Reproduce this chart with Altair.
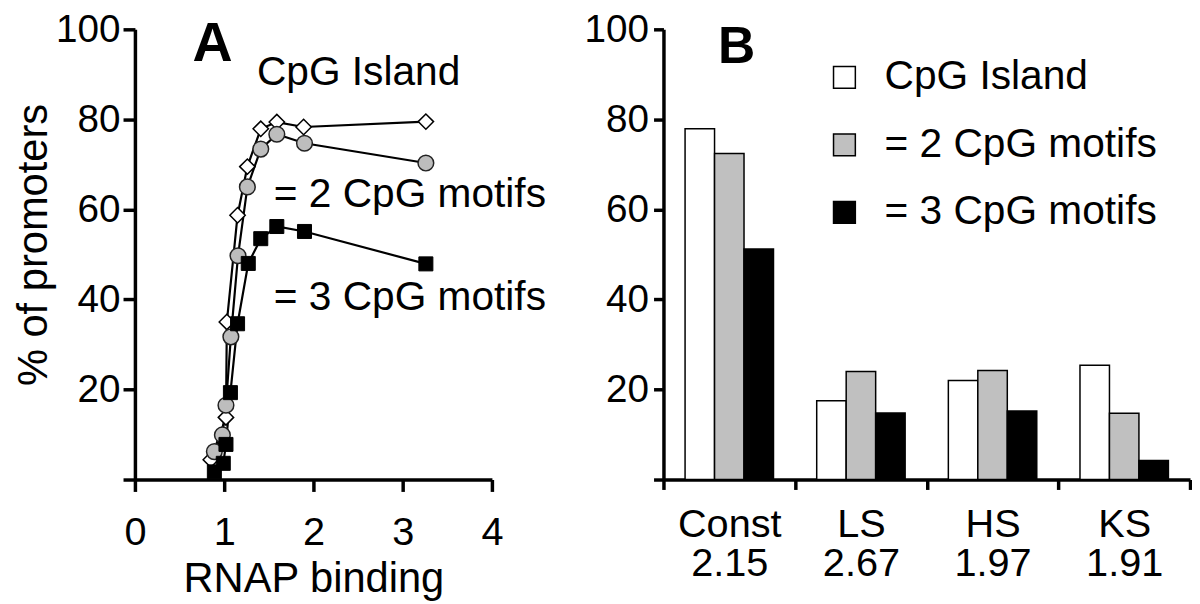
import altair as alt
import pandas as pd

FONT = "Liberation Sans"

# ---------------- Panel A: % of promoters vs RNAP binding ----------------
series_names = ["CpG Island", "= 2 CpG motifs", "= 3 CpG motifs"]

island_x = [0.85, 1.02, 1.03, 1.15, 1.26, 1.41, 1.59, 1.89, 3.26]
island_y = [4.4, 13.8, 35.0, 58.7, 69.5, 77.9, 79.4, 78.3, 79.5]

two_x = [0.89, 0.98, 1.02, 1.075, 1.155, 1.26, 1.41, 1.59, 1.90, 3.26]
two_y = [6.2, 9.9, 16.5, 31.7, 49.7, 65.0, 73.4, 76.7, 74.7, 70.3]

three_x = [0.89, 0.99, 1.02, 1.07, 1.15, 1.27, 1.41, 1.59, 1.90, 3.26]
three_y = [1.7, 3.6, 7.8, 19.3, 34.6, 48.0, 53.5, 56.2, 55.1, 47.9]

x_ticks = [0, 1, 2, 3, 4]
y_ticks = [0, 20, 40, 60, 80, 100]

# ---------------- Panel B: bars per promoter class ----------------
categories = ["Const", "LS", "HS", "KS"]
cat_numbers = ["2.15", "2.67", "1.97", "1.91"]
island_pct = [77.9, 17.5, 22.0, 25.4]
two_pct = [72.4, 24.0, 24.2, 14.7]
three_pct = [51.2, 14.8, 15.2, 4.2]

# ---------------- tables ----------------
dfA = pd.DataFrame({
    "x": island_x + two_x + three_x,
    "y": island_y + two_y + three_y,
    "series": [series_names[0]] * len(island_x)
    + [series_names[1]] * len(two_x)
    + [series_names[2]] * len(three_x),
})

cat_labels = [f"{c}|{n}" for c, n in zip(categories, cat_numbers)]
dfB = pd.DataFrame({
    "label": cat_labels * 3,
    "group": [series_names[0]] * 4 + [series_names[1]] * 4 + [series_names[2]] * 4,
    "value": island_pct + two_pct + three_pct,
})

PLOT_H = 454

# ---------------- Panel A chart ----------------
xA = alt.X(
    "x:Q",
    scale=alt.Scale(domain=[0, 4], nice=False, zero=False),
    axis=alt.Axis(
        values=x_ticks, format="d", title="RNAP binding", tickSize=12,
        labelPadding=22, labelFontSize=40, titleFontSize=42, titleY=113,
        titleBaseline="alphabetic", labelFlush=False,
    ),
)
yA = alt.Y(
    "y:Q",
    scale=alt.Scale(domain=[0, 100], nice=False),
    axis=alt.Axis(
        values=y_ticks, labelExpr="datum.value == 0 ? '' : datum.label",
        tickSize=12, labelPadding=3, title="% of promoters", titleFontSize=42,
        titleX=-102, titleY=217, titleBaseline="middle", titleAlign="center",
        labelFlush=False,
    ),
)

baseA = alt.Chart(dfA)
linesA = baseA.mark_line(color="black", strokeWidth=2.2).encode(
    x=xA, y=yA, detail="series:N"
)
pts_island = baseA.transform_filter(alt.datum.series == series_names[0]).mark_point(
    shape="diamond", filled=True, fill="white", stroke="black", strokeWidth=1.5,
    size=240, opacity=1,
).encode(x=xA, y=yA)
pts_two = baseA.transform_filter(alt.datum.series == series_names[1]).mark_point(
    shape="circle", filled=True, fill="#bdbdbd", stroke="#222222", strokeWidth=1.5,
    size=250, opacity=1,
).encode(x=xA, y=yA)
pts_three = baseA.transform_filter(alt.datum.series == series_names[2]).mark_point(
    shape="square", filled=True, fill="black", stroke="black", strokeWidth=1,
    size=200, opacity=1,
).encode(x=xA, y=yA)

def note(txt, xv, yv, size=41, weight="normal"):
    return alt.Chart(pd.DataFrame({"t": [txt]})).mark_text(
        align="left", baseline="middle", font=FONT, fontSize=size,
        fontWeight=weight, color="black",
    ).encode(x=alt.datum(xv), y=alt.datum(yv), text="t:N")

textA = (
    note("A", 0.644, 96.7, size=56, weight="bold")
    + note(series_names[0], 1.367, 90.3)
    + note(series_names[1], 1.556, 63.1)
    + note(series_names[2], 1.556, 40.3)
)

chartA = alt.layer(linesA, pts_island, pts_two, pts_three, textA).properties(
    width=360, height=PLOT_H
)

# ---------------- Panel B chart ----------------
xB = alt.X(
    "label:N", sort=cat_labels,
    scale=alt.Scale(paddingInner=0, paddingOuter=0),
    axis=alt.Axis(
        title=None, tickBand="extent", labelExpr="split(datum.label, '|')",
        labelAngle=0, tickSize=10, labelPadding=15, labelLineHeight=40,
        labelFontSize=40, labelBaseline="top",
    ),
)
yB = alt.Y(
    "value:Q",
    scale=alt.Scale(domain=[0, 100], nice=False),
    axis=alt.Axis(
        values=y_ticks, labelExpr="datum.value == 0 ? '' : datum.label",
        tickSize=10, labelPadding=5, title=None, labelFlush=False,
    ),
)
bars = alt.Chart(dfB).mark_bar(stroke="black", strokeWidth=1.5).encode(
    x=xB,
    xOffset=alt.XOffset("group:N", sort=series_names,
                        scale=alt.Scale(paddingInner=0, paddingOuter=0.733)),
    y=yB,
    fill=alt.Fill(
        "group:N", sort=series_names,
        scale=alt.Scale(domain=series_names, range=["white", "#c0c0c0", "black"]),
        legend=alt.Legend(
            orient="none", legendX=695, legendY=28, title=None,
            symbolType="square", symbolSize=484, symbolStrokeColor="black",
            symbolStrokeWidth=1.5, labelFontSize=41, labelFont=FONT,
            labelColor="black", labelOffset=20, rowPadding=26, padding=0,
            labelLimit=500,
        ),
    ),
)
textB = alt.Chart(pd.DataFrame({"t": ["B"]})).mark_text(
    align="left", baseline="middle", font=FONT, fontSize=52,
    fontWeight="bold", color="black",
).encode(x=alt.value(55), y=alt.datum(96.1), text="t:N")

chartB = alt.layer(bars, textB).properties(width=531, height=PLOT_H)

chart = (
    alt.hconcat(chartA, chartB, spacing=173, bounds="flush")
    .properties(padding={"left": 4, "top": 0, "right": 0, "bottom": 0})
    .configure_axis(
        domainColor="black", tickColor="black", labelColor="black",
        titleColor="black", domainWidth=3.5, tickWidth=3.5, labelFont=FONT,
        titleFont=FONT, labelFontSize=39, titleFontWeight="normal", grid=False,
    )
    .configure_view(stroke=None)
)

chart.save("out.html", embed_options={"renderer": "svg", "actions": False})
